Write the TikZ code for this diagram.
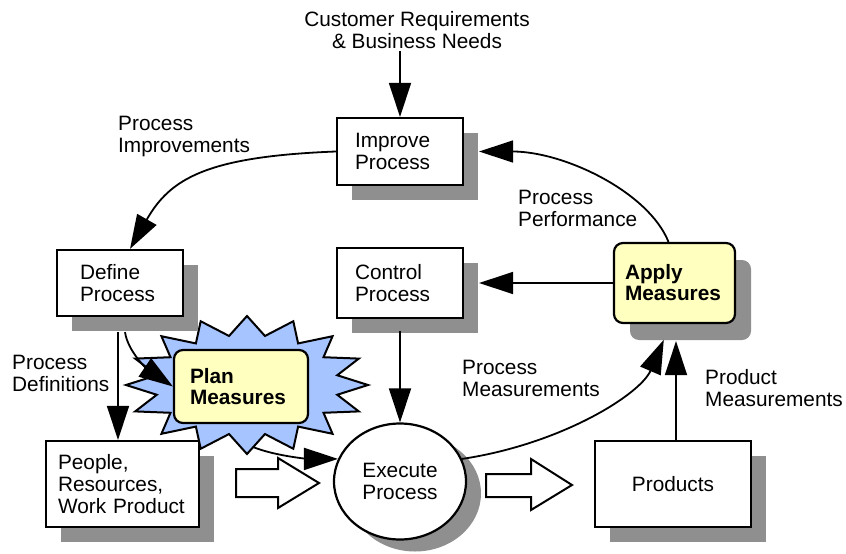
\documentclass[tikz,border=0pt]{standalone}
\usepackage{fontspec}
\setmainfont{Liberation Sans}
\usepackage{xcolor}
\usepackage{tikz}
\usetikzlibrary{shapes,arrows.meta,positioning,shadows,calc}

\definecolor{shadowgray}{RGB}{143,143,143}
\definecolor{measureyellow}{RGB}{255,255,192}
\definecolor{burstblue}{RGB}{166,196,255}

\tikzset{
  procbox/.style={draw, fill=white, line width=2.2pt, align=left, inner ysep=0pt},
  boxshadow/.style={drop shadow={shadow xshift=15pt, shadow yshift=-15pt, fill=shadowgray, opacity=1}},
  measurebox/.style={procbox, fill=measureyellow, rounded corners=9pt,
    font=\fontsize{20.8pt}{21pt}\selectfont\bfseries},
  flow/.style={line width=1.8pt, -{Triangle[length=34pt,width=22pt]}},
  note/.style={anchor=west, align=left, inner sep=0pt},
  hollow/.style={draw, fill=white, line width=2pt},
  burst/.style={draw, fill=burstblue, line width=2pt}
}

\begin{document}
\begin{tikzpicture}[x=1pt, y=-1pt,
    every node/.style={font=\fontsize{20.8pt}{22pt}\selectfont}]
  \useasboundingbox (0,0) rectangle (846,554);

  % Burst behind the planning step
  \draw[burst, shift={(247,385)}] (0:121 and 69)
    \foreach \k in {0,...,15} { -- (\k*22.5+11.25:92 and 50) -- (\k*22.5+22.5:121 and 69) } -- cycle;
  \coordinate (burstfoot) at (253,447);

  % Process steps
  \node[align=center, inner sep=2pt] (needs) at (417,30) {Customer Requirements\\\& Business Needs};
  \node[procbox, boxshadow, text width=90pt, inner xsep=18pt, minimum height=67pt] (improve) at (400,151.5) {Improve\\Process};
  \node[procbox, boxshadow, text width=80pt, inner xsep=23pt, minimum height=66pt] (define) at (120,283) {Define\\Process};
  \node[procbox, boxshadow, text width=90pt, inner xsep=18pt, minimum height=70pt] (control) at (400,283) {Control\\Process};
  \node[measurebox, drop shadow={shadow xshift=16pt, shadow yshift=-17pt, fill=shadowgray, opacity=1},
    text width=99pt, inner xsep=11pt, minimum height=80pt] (apply) at (674.5,283) {Apply\\Measures};
  \node[measurebox, text width=102pt, inner xsep=16pt, minimum height=73pt] (plan) at (241,386.5) {Plan\\Measures};
  \node[procbox, boxshadow, text width=129pt, inner xsep=12pt, minimum height=86pt] (people) at (122.5,484) {People,\\Resources,\\Work Product};
  \node[procbox, ellipse, align=center, inner sep=0pt, minimum width=132pt, minimum height=116pt,
    drop shadow={shadow xshift=15pt, shadow yshift=-12pt, fill=shadowgray, opacity=1}] (execute) at (400,481.5) {Execute\\Process};
  \node[procbox, boxshadow, align=center, text width=136pt, inner xsep=10pt, minimum height=86pt] (products) at (673,484) {Products};

  % Flow labels
  \node[note] (improvements) at (118,137) {Process\\Improvements};
  \node[note] (performance) at (518,208) {Process\\Performance};
  \node[note] (definitions) at (12,373) {Process\\Definitions};
  \node[note] (procmeas) at (462,378) {Process\\Measurements};
  \node[note] (prodmeas) at (705,388) {Product\\Measurements};

  % Improvement loop
  \draw[flow] (needs.south -| improve.north) -- (improve.north);
  \draw[flow] (improve.west) .. controls +(-130,5) and +(40,-70) .. ([xshift=10pt]define.north);
  \draw[flow, shorten >=15pt] ([xshift=-6pt]apply.north) .. controls +(-20,-50) and +(100,0) .. (improve.east);
  \draw[flow, shorten >=15pt] (apply.west) -- (apply.west -| control.east);

  % Definitions and planning
  \draw[flow, shorten <=15pt] ([xshift=-2pt]define.south) -- ([xshift=-2pt]define.south |- people.north);
  \draw[flow] ([xshift=5pt,yshift=-15pt]define.south) .. controls +(3,20) and +(-25,-17) .. (plan.west);
  \draw[flow] (burstfoot) .. controls +(25,10) and +(-25,0) .. (execute.160);
  \draw[flow, shorten <=12pt] (control.south) -- (execute.north);

  % Measurements back to apply
  \draw[flow, shorten >=17pt] (execute.20) .. controls +(100,-15) and +(-30,70) .. ([xshift=-4pt]apply.south);
  \draw[flow, shorten >=17pt] ([xshift=3pt]products.north) -- ([xshift=3pt]products.north |- apply.south);

  % Work flows into and out of execution
  \draw[hollow] (236,469) -- (278,469) -- (278,458) -- (319,483) -- (278,508) -- (278,497) -- (236,497) -- cycle;
  \draw[hollow] (486,474) -- (531,474) -- (531,459) -- (572,485) -- (531,510) -- (531,497) -- (486,497) -- cycle;
\end{tikzpicture}
\end{document}
